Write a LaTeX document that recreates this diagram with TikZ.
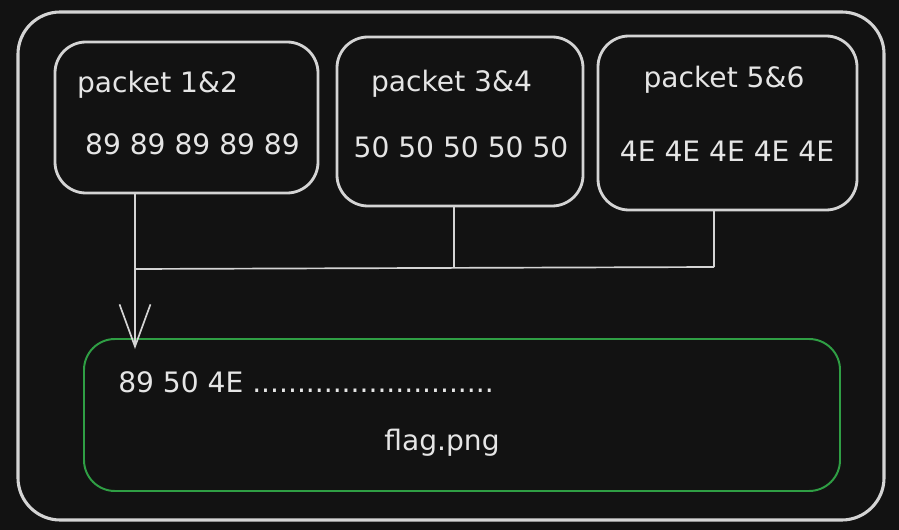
\documentclass[tikz,border=0pt]{standalone}
\usepackage{fontspec}
\setmainfont{DejaVu Sans}
\usepackage{xcolor}
\usepackage{tikz}
\usetikzlibrary{arrows.meta,calc}

\definecolor{bgdark}{HTML}{121212}
\definecolor{inkgray}{HTML}{D4D4D4}
\definecolor{inkgreen}{HTML}{2F9E44}

\begin{document}
\begin{tikzpicture}[
    x=0.025cm, y=-0.025cm,
    frame/.style={draw=inkgray, line width=2.2pt, rounded corners=30pt, inner sep=0pt},
    packet/.style={draw=inkgray, line width=2pt, rounded corners=22pt, inner sep=0pt},
    result/.style={draw=inkgreen, line width=1.4pt, rounded corners=22pt, inner sep=0pt},
    txt/.style={text=inkgray!60!white, font=\fontsize{20}{24}\selectfont, inner sep=0pt},
    wire/.style={draw=inkgray, line width=1.2pt},
    arr/.style={wire, -{Straight Barb[length=30pt, width=22pt, line width=1.2pt]}}
  ]
    % Background
    \fill[bgdark] (0,0) rectangle (899,530);

    % Outer frame
    \node[frame, minimum width=866*0.025cm, minimum height=508*0.025cm] (outer) at (451,266) {};

    % Packets
    \node[packet, minimum width=263*0.025cm, minimum height=151*0.025cm] (box1) at (186.5,117.5) {};
    \node[packet, minimum width=246*0.025cm, minimum height=169*0.025cm] (box2) at (460,121.5) {};
    \node[packet, minimum width=259*0.025cm, minimum height=174*0.025cm] (box3) at (727.5,123) {};

    \node[txt] (title1) at (157.5,85) {packet 1\&2};
    \node[txt] (data1)  at (192.5,144) {89 89 89 89 89};
    \node[txt] (title2) at (451.5,84) {packet 3\&4};
    \node[txt] (data2)  at (461,147) {50 50 50 50 50};
    \node[txt] (title3) at (724,80) {packet 5\&6};
    \node[txt] (data3)  at (727,151) {4E 4E 4E 4E 4E};

    % Result
    \node[result, minimum width=756*0.025cm, minimum height=152*0.025cm] (flag) at (462,415) {};
    \node[txt, anchor=west] (bytes) at (118,382) {89 50 4E ...........................};
    \node[txt] (fname) at (442,443) {flag.png};

    % Joins
    \coordinate (jA) at (135,269);
    \coordinate (jB) at (454,268);
    \coordinate (jC) at (714,267);

    \draw[wire] (box2.south -| jB) -- (jB);
    \draw[wire] (box3.south -| jC) -- (jC);
    \draw[wire] (jA) -- (jC);
    \draw[arr] (box1.south -| jA) -- ($(flag.north -| jA)+(0,11)$);
  \end{tikzpicture}
\end{document}
